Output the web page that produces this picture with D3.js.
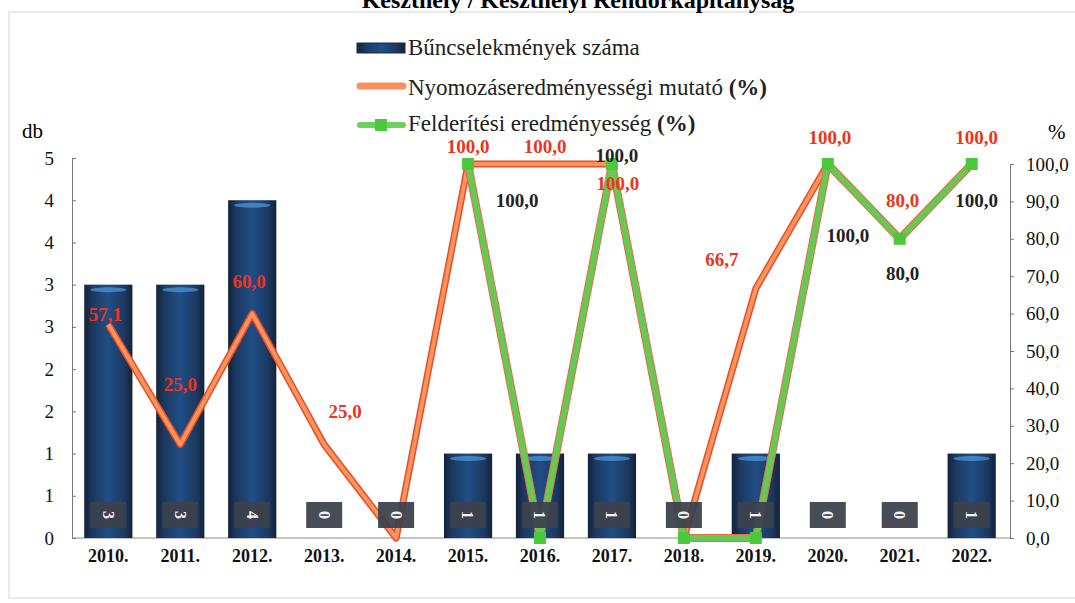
<!DOCTYPE html>
<html>
<head>
<meta charset="utf-8">
<script src="https://cdn.jsdelivr.net/npm/d3@7"></script>
<style>
  body { margin: 0; background: #fff; }
  svg { display: block; font-family: "Liberation Serif", "Times New Roman", serif; }
  svg text { font-family: "Liberation Serif", "Times New Roman", serif; }
</style>
</head>
<body>
<div id="chart"></div>
<script>
// ---- data ----
const years = ["2010.", "2011.", "2012.", "2013.", "2014.", "2015.", "2016.", "2017.", "2018.", "2019.", "2020.", "2021.", "2022."];
const crimeCounts = [3, 3, 4, 0, 0, 1, 1, 1, 0, 1, 0, 0, 1];
const investigationRate = [57.1, 25.0, 60.0, 25.0, 0, 100, 100, 100, 0, 66.7, 100, 80, 100];
const detectionRate = [null, null, null, null, null, 100, 0, 100, 0, 0, 100, 80, 100];
const leftTicks = [0, 0.5, 1, 1.5, 2, 2.5, 3, 3.5, 4, 4.5];
const rightTicks = [0, 10, 20, 30, 40, 50, 60, 70, 80, 90, 100];

// hand placed label offsets (dx, dy from the point), like in the original
const orangeLabelOffsets = [[-3, -3], [0, -54], [-3, -26], [21, -27], null, [0, -11], [5, -11], [6, 26], null, [-34, -23], [2, -20], [3, -32], [5, -20]];
const greenLabelOffsets = [null, null, null, null, null, [49, 43], null, [5, -2], null, null, [20, 78], [3, 41], [5, 43]];

const width = 1075, height = 603;
const x0 = 72, x1 = 1010, yBase = 538;

const svg = d3.select("#chart").append("svg")
    .attr("width", width)
    .attr("height", height);

const defs = svg.append("defs");
const grad = defs.append("linearGradient").attr("id", "barGrad")
    .attr("x1", "0%").attr("x2", "100%").attr("y1", "0%").attr("y2", "0%");
[["0%", "#14223a"], ["18%", "#1b3a62"], ["50%", "#214e86"], ["82%", "#1b3a62"], ["100%", "#14223a"]]
    .forEach(s => grad.append("stop").attr("offset", s[0]).attr("stop-color", s[1]));

// frame (scan border)
svg.append("rect")
    .attr("x", 9).attr("y", 12)
    .attr("width", 1075).attr("height", 586)
    .attr("fill", "none")
    .attr("stroke", "#e4e4e4")
    .attr("stroke-width", 1.5);

// title, cut off at the top like the scan
svg.append("text")
    .attr("x", 578).attr("y", 8)
    .attr("text-anchor", "middle")
    .style("font-size", "24px")
    .style("font-weight", "bold")
    .text("Keszthely / Keszthelyi Rendőrkapitányság");

// ---- scales ----
const x = d3.scaleBand()
    .domain(years)
    .range([x0, x1 - 2])
    .paddingInner(0.33)
    .paddingOuter(0.17);

const yLeft = d3.scaleLinear().domain([0, 4.5]).range([yBase, 158]);
const yRight = d3.scaleLinear().domain([0, 100]).range([yBase, 164]);

const fmt = v => d3.format(".1f")(v).replace(".", ",");

// ---- axes ----
const leftAxis = d3.axisLeft(yLeft)
    .tickValues(leftTicks)
    .tickFormat(d => Math.round(d))
    .tickSize(-4)
    .tickPadding(18);

const gl = svg.append("g")
    .attr("transform", `translate(${x0},0)`)
    .call(leftAxis);
gl.selectAll("text").style("font-size", "19px").attr("fill", "#111");
gl.selectAll("path, line").attr("stroke", "#777");

const rightAxis = d3.axisRight(yRight)
    .tickValues(rightTicks)
    .tickFormat(fmt)
    .tickSize(4)
    .tickPadding(12);

const gr = svg.append("g")
    .attr("transform", `translate(${x1},0)`)
    .call(rightAxis);
gr.selectAll("text").style("font-size", "19px").attr("fill", "#111");
gr.selectAll("path, line").attr("stroke", "#777");

// baseline
svg.append("line")
    .attr("x1", x0).attr("x2", x1)
    .attr("y1", yBase).attr("y2", yBase)
    .attr("stroke", "#888");

// axis titles
svg.append("text").attr("x", 22).attr("y", 138).style("font-size", "21px").text("db");
svg.append("text").attr("x", 1048).attr("y", 139).style("font-size", "21px").text("%");

// ---- bars ----
const barData = years.map((y, i) => ({ year: y, value: crimeCounts[i] }));

const bars = svg.append("g");
bars.selectAll("rect.bar")
    .data(barData.filter(d => d.value > 0))
    .enter()
    .append("rect")
    .attr("class", "bar")
    .attr("x", d => x(d.year))
    .attr("y", d => yLeft(d.value))
    .attr("width", x.bandwidth())
    .attr("height", d => yBase - yLeft(d.value))
    .attr("fill", "url(#barGrad)");

// top highlight of the 3D bars
bars.selectAll("ellipse")
    .data(barData.filter(d => d.value > 0))
    .enter()
    .append("ellipse")
    .attr("cx", d => x(d.year) + x.bandwidth() / 2)
    .attr("cy", d => yLeft(d.value) + 5)
    .attr("rx", x.bandwidth() / 2 - 6)
    .attr("ry", 2.5)
    .attr("fill", "#4f93d6")
    .attr("opacity", 0.75);

// year labels
svg.append("g").selectAll("text")
    .data(years)
    .enter()
    .append("text")
    .attr("x", d => x(d) + x.bandwidth() / 2)
    .attr("y", 562)
    .attr("text-anchor", "middle")
    .style("font-size", "18px")
    .style("font-weight", "bold")
    .attr("fill", "#111")
    .text(d => d);

// ---- lines ----
const cx = i => x(years[i]) + x.bandwidth() / 2;

const line = d3.line()
    .defined(d => d.v !== null)
    .x(d => cx(d.i))
    .y(d => yRight(d.v));

const orangeData = investigationRate.map((v, i) => ({ i, v }));
const greenData = detectionRate.map((v, i) => ({ i, v }));

svg.append("path")
    .datum(orangeData)
    .attr("d", line)
    .attr("fill", "none")
    .attr("stroke", "#ea4b2a")
    .attr("stroke-width", 7)
    .attr("stroke-linejoin", "round");
svg.append("path")
    .datum(orangeData)
    .attr("d", line)
    .attr("fill", "none")
    .attr("stroke", "#f7955c")
    .attr("stroke-width", 4)
    .attr("stroke-linejoin", "round");

svg.append("path")
    .datum(greenData)
    .attr("d", line)
    .attr("fill", "none")
    .attr("stroke", "#ef6a45")
    .attr("stroke-width", 8)
    .attr("stroke-linejoin", "round");
svg.append("path")
    .datum(greenData)
    .attr("d", line)
    .attr("fill", "none")
    .attr("stroke", "#66c955")
    .attr("stroke-width", 6)
    .attr("stroke-linejoin", "round");

// value boxes at the bottom (drawn over the lines, as in the original)
const boxes = svg.append("g");
boxes.selectAll("rect")
    .data(barData)
    .enter()
    .append("rect")
    .attr("x", d => x(d.year) + x.bandwidth() / 2 - 18)
    .attr("y", 502)
    .attr("width", 36)
    .attr("height", 26)
    .attr("fill", "#3b414d")
    .attr("opacity", 0.94);

boxes.selectAll("text")
    .data(barData)
    .enter()
    .append("text")
    .attr("transform", d => `translate(${x(d.year) + x.bandwidth() / 2},515) rotate(90)`)
    .attr("text-anchor", "middle")
    .attr("dy", "0.35em")
    .style("font-size", "16px")
    .style("font-weight", "bold")
    .attr("fill", "#f2f2f2")
    .text(d => d.value);

// green markers
svg.append("g").selectAll("rect")
    .data(greenData.filter(d => d.v !== null))
    .enter()
    .append("rect")
    .attr("x", d => cx(d.i) - 6)
    .attr("y", d => yRight(d.v) - 6)
    .attr("width", 12)
    .attr("height", 12)
    .attr("fill", "#4cc83c");

// ---- data labels ----
svg.append("g").selectAll("text")
    .data(orangeData.filter(d => orangeLabelOffsets[d.i]))
    .enter()
    .append("text")
    .attr("x", d => cx(d.i) + orangeLabelOffsets[d.i][0])
    .attr("y", d => yRight(d.v) + orangeLabelOffsets[d.i][1])
    .attr("text-anchor", "middle")
    .style("font-size", "19px")
    .style("font-weight", "bold")
    .attr("fill", "#ec3420")
    .text(d => fmt(d.v));

svg.append("g").selectAll("text")
    .data(greenData.filter(d => greenLabelOffsets[d.i]))
    .enter()
    .append("text")
    .attr("x", d => cx(d.i) + greenLabelOffsets[d.i][0])
    .attr("y", d => yRight(d.v) + greenLabelOffsets[d.i][1])
    .attr("text-anchor", "middle")
    .style("font-size", "19px")
    .style("font-weight", "bold")
    .attr("fill", "#222")
    .text(d => fmt(d.v));

// ---- legend ----
const legend = svg.append("g")
    .style("font-family", "'Liberation Serif', 'Times New Roman', serif")
    .style("font-size", "23px");

legend.append("rect")
    .attr("x", 357).attr("y", 43)
    .attr("width", 48).attr("height", 10)
    .attr("fill", "url(#barGrad)")
    .attr("stroke", "#1a2a40");
legend.append("text").attr("x", 408).attr("y", 55)
    .attr("fill", "#222")
    .text("Bűncselekmények száma");

legend.append("line")
    .attr("x1", 360).attr("x2", 403)
    .attr("y1", 86).attr("y2", 86)
    .attr("stroke", "#f7905a")
    .attr("stroke-width", 7)
    .attr("stroke-linecap", "round");
const t2 = legend.append("text").attr("x", 408).attr("y", 95)
    .attr("fill", "#222");
t2.append("tspan").text("Nyomozáseredményességi mutató ");
t2.append("tspan").style("font-weight", "bold").text("(%)");

legend.append("line")
    .attr("x1", 360).attr("x2", 403)
    .attr("y1", 125).attr("y2", 125)
    .attr("stroke", "#6fd060")
    .attr("stroke-width", 6)
    .attr("stroke-linecap", "round");
legend.append("rect")
    .attr("x", 375).attr("y", 119)
    .attr("width", 12).attr("height", 12)
    .attr("fill", "#4cc83c");
const t3 = legend.append("text").attr("x", 408).attr("y", 131)
    .attr("fill", "#222");
t3.append("tspan").text("Felderítési eredményesség ");
t3.append("tspan").style("font-weight", "bold").text("(%)");
</script>
</body>
</html>
